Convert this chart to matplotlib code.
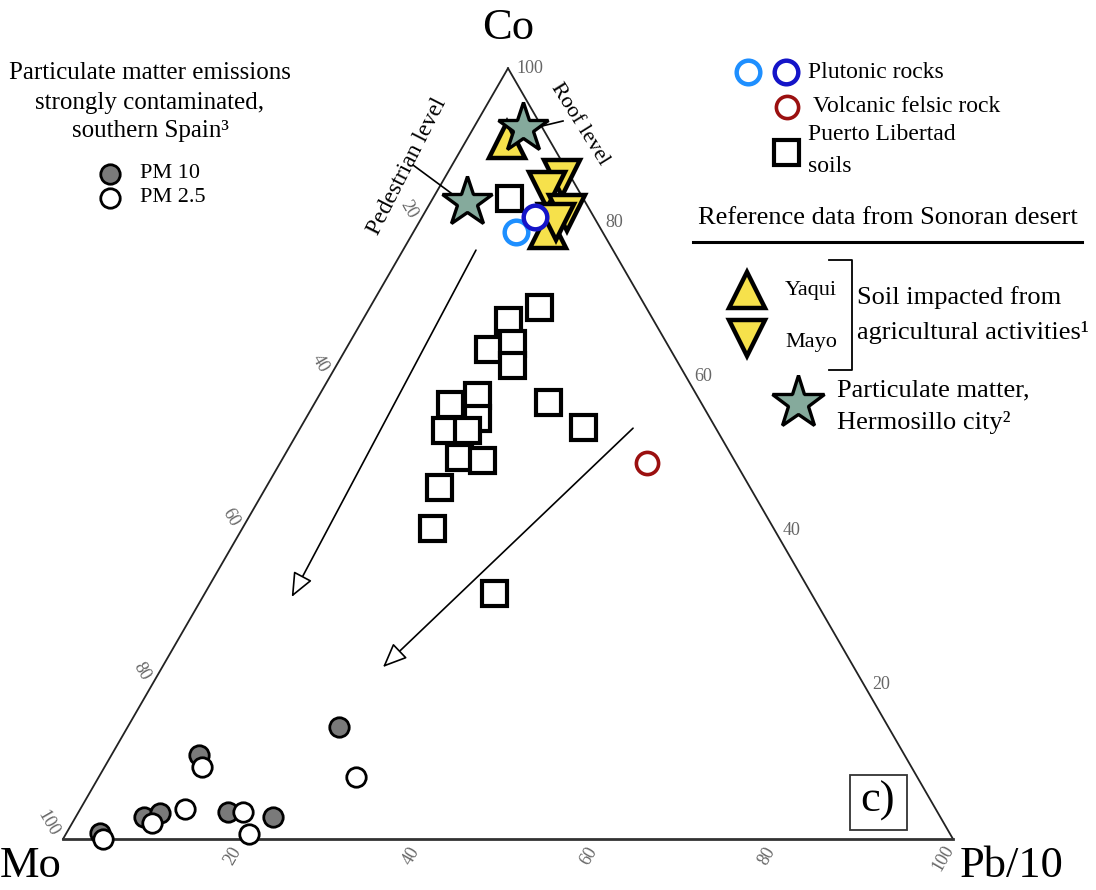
import numpy as np
import matplotlib
matplotlib.use("Agg")
import matplotlib.pyplot as plt
from matplotlib.patches import Rectangle

plt.rcParams["font.family"] = ["Liberation Serif", "DejaVu Serif"]

# ---- compositions, in % of Co / Mo / (Pb/10) ----
square_co = [83.1, 69.0, 67.4, 63.6, 64.3, 61.5, 57.6, 56.4, 54.6, 53.0, 53.0, 49.5, 49.2, 45.7, 40.3, 31.9, 56.7, 53.4]
square_mo = [8.3, 12.0, 16.3, 20.4, 17.4, 18.8, 24.7, 28.3, 26.2, 30.6, 28.1, 30.7, 28.3, 34.9, 38.4, 35.6, 17.1, 14.9]
square_pb = [8.6, 19.0, 16.3, 16.0, 18.3, 19.7, 17.7, 15.3, 19.2, 16.4, 18.9, 19.8, 22.5, 19.4, 21.3, 32.5, 26.2, 31.7]

mayo_co = [85.7, 84.2, 81.2, 80.0]
mayo_mo = [1.1, 3.5, 2.8, 4.6]
mayo_pb = [13.2, 12.3, 16.0, 15.4]

yaqui_co = [90.7, 79.0]
yaqui_mo = [4.8, 6.0]
yaqui_pb = [4.5, 15.0]

plut_light = (78.7, 9.8, 11.5)
plut_dark = (80.7, 6.6, 12.7)
volcanic = (48.8, 10.0, 41.2)

star_co = [92.2, 82.6]      # roof level, pedestrian level
star_mo = [2.2, 13.3]
star_pb = [5.6, 4.1]

pm10_co = [0.8, 2.9, 3.4, 10.9, 3.5, 2.9, 14.5]
pm10_mo = [95.4, 89.5, 87.4, 79.3, 79.7, 75.0, 61.7]
pm10_pb = [3.8, 7.6, 9.2, 9.8, 16.8, 22.1, 23.8]

pm25_co = [0.0, 2.1, 3.9, 9.3, 3.5, 0.6, 8.0]
pm25_mo = [95.5, 89.0, 84.3, 79.7, 78.0, 78.8, 63.1]
pm25_pb = [4.5, 9.0, 11.8, 11.0, 18.5, 20.6, 28.9]

# trend arrows (start, end) as Co / Mo / Pb compositions
arrow_starts = [(76.4, 15.4, 8.2), (53.3, 9.3, 37.4)]
arrow_ends = [(31.4, 58.6, 10.0), (22.3, 52.9, 24.8)]

tick_values = [20, 40, 60, 80, 100]

YELLOW = "#f6e14b"
SAGE = "#85aa9c"
LIGHT_BLUE = "#1e8fff"
DARK_BLUE = "#1414c8"
DARK_RED = "#9b1010"


def tern(co, mo, pb):
    co = np.asarray(co, float)
    mo = np.asarray(mo, float)
    pb = np.asarray(pb, float)
    s = co + mo + pb
    c, p = co / s, pb / s
    return p + c / 2.0, c * np.sqrt(3) / 2.0


# figure is laid out in a frame where the triangle side is 1
W, H = 1096, 890
X0, Y0, SIDE = 63, 839, 890


def P(x, y):
    """pixel position on the canvas -> axes coordinates"""
    return (x - X0) / SIDE, (Y0 - y) / SIDE


fig = plt.figure(figsize=(W / 100, H / 100), dpi=100)
ax = fig.add_axes([0, 0, 1, 1])
ax.set_xlim(-X0 / SIDE, (W - X0) / SIDE)
ax.set_ylim(-(H - Y0) / SIDE, Y0 / SIDE)
ax.axis("off")

# triangle frame
h = np.sqrt(3) / 2
ax.plot([0, 0.5], [0, h], color="#222222", lw=1.3, zorder=2)
ax.plot([0.5, 1], [h, 0], color="#222222", lw=1.3, zorder=2)
ax.plot([0, 1], [0, 0], color="#333333", lw=2.0, zorder=2)

# axis tick labels
tick_kw = dict(fontsize=13, color="#666666", ha="center", va="center")
for v in tick_values:
    # Co along the right edge
    x, y = tern(v, 0, 100 - v)
    ax.annotate(str(v), (x, y), xytext=(8, 0), textcoords="offset pixels",
                fontsize=13, color="#666666", ha="left", va="center")
    # Mo along the left edge
    x, y = tern(100 - v, v, 0)
    off = (-15, 16) if v == 100 else (-10, 13)
    ax.annotate(str(v), (x, y), xytext=off, textcoords="offset pixels",
                rotation=-60, **tick_kw)
    # Pb/10 along the base
    x, y = tern(0, 100 - v, v)
    off = (-10, -19) if v == 100 else (-8, -17)
    ax.annotate(str(v), (x, y), xytext=off, textcoords="offset pixels",
                rotation=60, **tick_kw)

# vertex labels
ax.text(*P(508, 28), "Co", fontsize=32, ha="center", va="center")
ax.text(*P(31, 866), "Mo", fontsize=32, ha="center", va="center")
ax.text(*P(1012, 866), "Pb/10", fontsize=32, ha="center", va="center")

# trend arrows
for s, e in zip(arrow_starts, arrow_ends):
    ax.annotate("", xy=tern(*e), xytext=tern(*s),
                arrowprops=dict(arrowstyle="-|>,head_length=0.75,head_width=0.32",
                                mutation_scale=20, fc="white", ec="black",
                                lw=1.2, shrinkA=0, shrinkB=0), zorder=3)

# data
SQ = dict(ls="none", marker="s", ms=18, mfc="white", mec="black", mew=3.0)
TRI = dict(ls="none", ms=26, mfc=YELLOW, mec="black", mew=3.2)
STAR = dict(ls="none", marker="*", ms=38, mfc=SAGE, mec="black", mew=2.4)
RING = dict(ls="none", marker="o", ms=17, mfc="white", mew=3.2)
PM = dict(ls="none", marker="o", ms=14, mec="black", mew=2.0)

ax.plot(*tern(square_co, square_mo, square_pb), zorder=4, **SQ)
ax.plot(*tern(yaqui_co, yaqui_mo, yaqui_pb), marker="^", zorder=5, **TRI)
ax.plot(*tern(mayo_co, mayo_mo, mayo_pb), marker="v", zorder=5.5, **TRI)
ax.plot(*tern(*plut_light), mec=LIGHT_BLUE, zorder=6, **RING)
ax.plot(*tern(*plut_dark), mec=DARK_BLUE, zorder=6, **RING)
ax.plot(*tern(*volcanic), mec=DARK_RED, zorder=6,
        **{**RING, "mew": 2.6, "ms": 16})
ax.plot(*tern(star_co, star_mo, star_pb), zorder=7, **STAR)
ax.plot(*tern(pm10_co, pm10_mo, pm10_pb), mfc="#7a7a7a", zorder=6, **PM)
ax.plot(*tern(pm25_co, pm25_mo, pm25_pb), mfc="white", zorder=6, **PM)

# sampling level labels with leader lines
ax.plot(*zip(P(413, 165), P(455, 196)), color="black", lw=1.2, zorder=3)
ax.plot(*zip(P(538, 127), P(563, 121)), color="black", lw=1.2, zorder=3)
ax.text(*P(407, 166), "Pedestrian level", fontsize=17, rotation=63,
        ha="center", va="center")
ax.text(*P(580, 124), "Roof level", fontsize=16, rotation=-58,
        ha="center", va="center")

# panel tag
ax.add_patch(Rectangle(P(850, 830), 57 / SIDE, 55 / SIDE, fill=False,
                       ec="#333333", lw=1.3, zorder=3))
ax.text(*P(878, 801), "c)", fontsize=32, ha="center", va="center")

# left legend
for yy, line in zip([73, 103, 131], ["Particulate matter emissions",
                                    "strongly contaminated,",
                                    "southern Spain³"]):
    ax.text(*P(150, yy), line, fontsize=18, ha="center", va="center")
ax.plot(*P(110, 174), **{**PM, "mfc": "#7a7a7a"})
ax.plot(*P(110, 198), **{**PM, "mfc": "white"})
ax.text(*P(140, 174), "PM 10", fontsize=16, ha="left", va="center")
ax.text(*P(140, 198), "PM 2.5", fontsize=16, ha="left", va="center")

# right legend
ax.plot(*P(748, 72), mec=LIGHT_BLUE, **RING)
ax.plot(*P(786, 72), mec=DARK_BLUE, **RING)
ax.text(*P(808, 72), "Plutonic rocks", fontsize=17, ha="left", va="center")
ax.plot(*P(787, 107), mec=DARK_RED, **{**RING, "mew": 2.6, "ms": 16})
ax.text(*P(813, 107), "Volcanic felsic rock", fontsize=17, ha="left", va="center")
ax.plot(*P(786, 152), **SQ)
ax.text(*P(808, 135), "Puerto Libertad", fontsize=17, ha="left", va="center")
ax.text(*P(808, 167), "soils", fontsize=17, ha="left", va="center")

ax.text(*P(888, 218), "Reference data from Sonoran desert", fontsize=19,
        ha="center", va="center")
ax.plot(*zip(P(693, 242), P(1082, 242)), color="black", lw=2.2)

ax.plot(*P(747, 290), marker="^", **TRI)
ax.plot(*P(747, 338), marker="v", **TRI)
ax.text(*P(811, 290), "Yaqui", fontsize=16, ha="center", va="center")
ax.text(*P(811, 342), "Mayo", fontsize=16, ha="center", va="center")
ax.plot(*zip(P(829, 260), P(852, 260), P(852, 370), P(829, 370)),
        color="black", lw=1.3)
ax.text(*P(857, 298), "Soil impacted from", fontsize=19, ha="left", va="center")
ax.text(*P(857, 332), "agricultural activities¹", fontsize=19, ha="left",
        va="center")

ax.plot(*P(798, 403), **{**STAR, "ms": 40})
ax.text(*P(837, 390), "Particulate matter,", fontsize=19, ha="left", va="center")
ax.text(*P(837, 423), "Hermosillo city²", fontsize=19, ha="left", va="center")

fig.savefig("out.png", dpi=100)
